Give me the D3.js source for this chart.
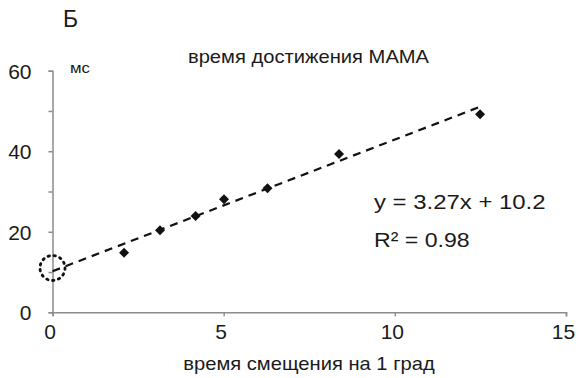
<!DOCTYPE html>
<html>
<head>
<meta charset="utf-8">
<script src="https://cdn.jsdelivr.net/npm/d3@7"></script>
<style>
  body { margin: 0; background: #fff; }
  svg text { font-family: "Liberation Sans", Arial, sans-serif; fill: #1a1a1a; }
</style>
</head>
<body>
<svg id="chart" width="579" height="378"></svg>
<script>
// data
const xValues = [2.09, 3.14, 4.18, 5.01, 6.28, 8.37, 12.49];
const yValues = [14.8, 20.4, 23.9, 28.1, 30.8, 39.3, 49.2];
const trend = { slope: 3.27, intercept: 10.2 };
const xTicks = [0, 5, 10, 15];
const yTicks = [0, 10, 20, 30, 40, 50, 60];
const yLabels = [0, 20, 40, 60];
const marked = [0, 11]; // dotted circle around the intercept

const width = 579, height = 378;
const svg = d3.select("#chart");

const x = d3.scaleLinear().domain([0, 15]).range([52.5, 566]);
const y = d3.scaleLinear().domain([0, 60]).range([312.3, 70.7]);

const axisColor = "#8c8c8c";

// y axis
const yAxis = svg.append("g")
  .attr("transform", `translate(${x(0)},0)`)
  .call(d3.axisLeft(y).tickValues(yTicks).tickSize(4).tickPadding(17)
    .tickFormat(d => yLabels.includes(d) ? d : ""));

// x axis
const xAxis = svg.append("g")
  .attr("transform", `translate(0,${y(0)})`)
  .call(d3.axisBottom(x).tickValues(xTicks).tickSize(4).tickPadding(8));

[xAxis, yAxis].forEach(g => {
  g.select(".domain").attr("stroke", axisColor).attr("stroke-width", 1.5);
  g.selectAll(".tick line").attr("stroke", axisColor).attr("stroke-width", 1.5);
  g.selectAll(".tick text")
    .attr("font-family", "Liberation Sans, Arial, sans-serif")
    .attr("font-size", 21)
    .attr("fill", "#1a1a1a");
});
yAxis.selectAll(".tick text").attr("dy", "0.36em");
xAxis.selectAll(".tick text").attr("dx", -3);

// trend line
const x0 = 0, x1 = d3.max(xValues);
svg.append("line")
  .attr("x1", x(x0)).attr("y1", y(trend.slope * x0 + trend.intercept))
  .attr("x2", x(x1)).attr("y2", y(trend.slope * x1 + trend.intercept))
  .attr("stroke", "#111")
  .attr("stroke-width", 2.2)
  .attr("stroke-dasharray", "8,6");

// points
const pts = xValues.map((v, i) => ({ x: v, y: yValues[i] }));
svg.selectAll("path.pt")
  .data(pts)
  .join("path")
  .attr("class", "pt")
  .attr("d", d3.symbol().type(d3.symbolSquare).size(50))
  .attr("transform", d => `translate(${x(d.x)},${y(d.y)}) rotate(45)`)
  .attr("fill", "#111");

// dotted circle at intercept
svg.append("circle")
  .attr("cx", x(marked[0]))
  .attr("cy", y(marked[1]))
  .attr("r", 12.5)
  .attr("fill", "none")
  .attr("stroke", "#111")
  .attr("stroke-width", 2.8)
  .attr("stroke-dasharray", "1.5,4.5")
  .attr("stroke-linecap", "round");

// texts (the source is slightly stretched horizontally)
function label(tx, ty, size, str, anchor = "start", sx = 1.12) {
  svg.append("text")
    .attr("transform", `translate(${tx},${ty}) scale(${sx},1)`)
    .attr("text-anchor", anchor)
    .attr("font-size", size)
    .text(str);
}

label(63, 26.5, 23, "Б", "start", 1);
label(308.5, 62.7, 18, "время достижения МАМА", "middle");
label(70, 73, 15, "мс");
label(374, 209, 21, "y = 3.27x + 10.2", "start", 1.14);
label(374, 247, 21, "R² = 0.98", "start", 1.1);
label(309, 370, 18, "время смещения на 1 град", "middle");
</script>
</body>
</html>
